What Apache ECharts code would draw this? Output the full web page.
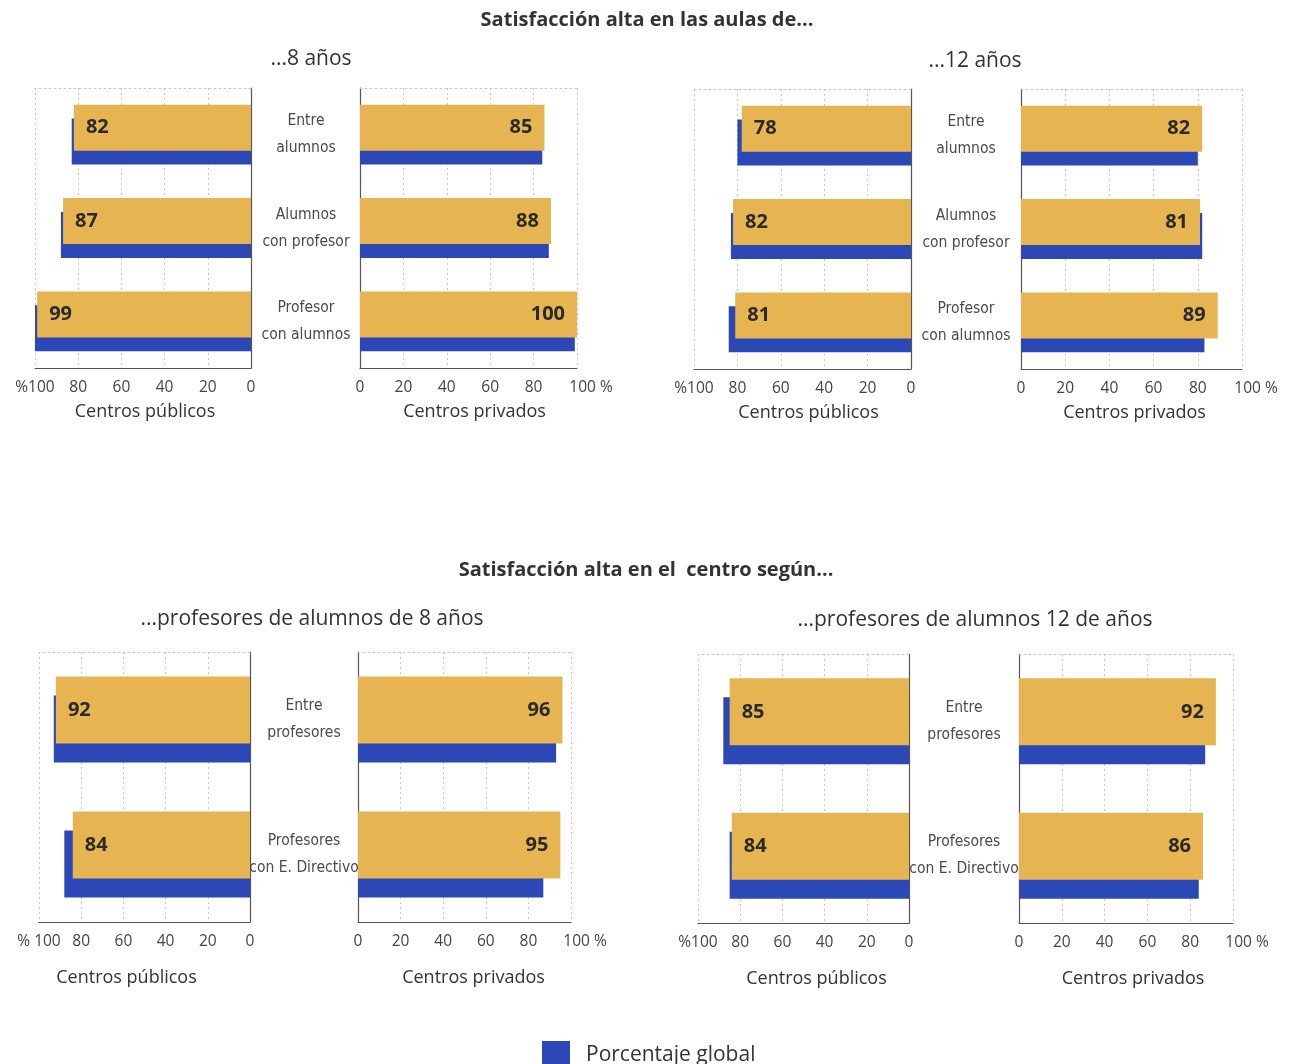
<!DOCTYPE html>
<html>
<head>
<meta charset="utf-8">
<script src="https://cdn.jsdelivr.net/npm/echarts@6/dist/echarts.min.js"></script>
<style>
html,body{margin:0;padding:0;background:#fff;}
#chart{width:1289px;height:1064px;}
</style>
</head>
<body>
<div id="chart"></div>
<script>
// ---- Data ----
const catsAulas = ['Entre\nalumnos', 'Alumnos\ncon profesor', 'Profesor\ncon alumnos'];
const catsCentro = ['Entre\nprofesores', 'Profesores\ncon E. Directivo'];

const aulas8PubVal = [82, 87, 99];
const aulas8PubGlobal = [83, 88, 100];
const aulas8PrivVal = [85, 88, 100];
const aulas8PrivGlobal = [84, 87, 99];

const aulas12PubVal = [78, 82, 81];
const aulas12PubGlobal = [80, 83, 84];
const aulas12PrivVal = [82, 81, 89];
const aulas12PrivGlobal = [80, 82, 83];

const centro8PubVal = [92, 84];
const centro8PubGlobal = [93, 88];
const centro8PrivVal = [96, 95];
const centro8PrivGlobal = [93, 87];

const centro12PubVal = [85, 84];
const centro12PubGlobal = [88, 85];
const centro12PrivVal = [92, 86];
const centro12PrivGlobal = [87, 84];

const pubTickLabels = {0: '0', 20: '20', 40: '40', 60: '60', 80: '80', 100: '%100'};
const pubTickLabelsB = {0: '0', 20: '20', 40: '40', 60: '60', 80: '80', 100: '% 100'};
const privTickLabels = {0: '0', 20: '20', 40: '40', 60: '60', 80: '80', 100: '100 %'};

const axisNamePub = 'Centros públicos';
const axisNamePriv = 'Centros privados';
const legendName = 'Porcentaje global';

// ---- Styles ----
const GOLD = '#E6B552';
const BLUE = '#2C47B6';
const FONT = "'Open Sans', 'Noto Sans', sans-serif";
const NARROW = "'Liberation Sans Narrow', 'DejaVu Sans Condensed', sans-serif";

const grids = [], xAxes = [], yAxes = [], series = [];

function addGrid(box, cats, vals, glob, isPub, opts) {
  const gi = grids.length;
  grids.push({left: box[0], top: box[1], width: box[2], height: box[3], containLabel: false});
  const xMain = xAxes.length;
  const labels = opts.tickLabels;
  const dx = opts.nameShift || 0;
  xAxes.push({
    type: 'value', gridIndex: gi, min: 0, max: 100, interval: 20, inverse: isPub,
    position: 'bottom',
    axisLine: {show: true, lineStyle: {color: '#555', width: 1.2}},
    axisTick: {show: false},
    splitLine: {show: true, lineStyle: {color: '#c8c8c8', type: [2, 3], width: 1}},
    axisLabel: {
      color: '#444', fontSize: 15.5, fontFamily: FONT, margin: 12,
      showMinLabel: true, showMaxLabel: true, hideOverlap: false,
      formatter: function (v) {
        if (v === 100 && !isPub) return '{p|' + labels[v] + '}';
        return labels[v];
      },
      rich: {p: {color: '#444', fontSize: 15.5, fontFamily: FONT, padding: [0, 0, 0, 28]}}
    },
    name: isPub ? axisNamePub : axisNamePriv,
    nameLocation: 'middle', nameGap: opts.nameGap,
    nameTextStyle: {
      color: '#333', fontSize: 18, fontFamily: FONT,
      padding: dx >= 0 ? [0, 0, 0, 2 * dx] : [0, -2 * dx, 0, 0]
    }
  });
  xAxes.push({
    type: 'value', gridIndex: gi, min: 0, max: 100, inverse: isPub, position: 'top',
    axisLine: {show: true, lineStyle: {color: '#c8c8c8', type: [2, 3], width: 1}},
    axisTick: {show: false}, axisLabel: {show: false}, splitLine: {show: false}
  });
  const yi = yAxes.length;
  yAxes.push({
    type: 'category', gridIndex: gi, data: cats, inverse: true,
    position: isPub ? 'right' : 'left',
    axisLine: {show: true, onZero: false, lineStyle: {color: '#555', width: 1.2}},
    axisTick: {show: false},
    splitLine: {show: false},
    axisLabel: isPub ? {show: false} : {
      show: true, align: 'center', margin: opts.catMargin,
      color: '#4a4a4a', fontSize: 15.5, lineHeight: 27, fontFamily: NARROW
    }
  });
  const bw = opts.barWidth;
  series.push({
    type: 'bar', name: 'Valor', xAxisIndex: xMain, yAxisIndex: yi,
    data: vals, barWidth: bw, barGap: opts.barGap, z: 3,
    itemStyle: {color: GOLD},
    label: {
      show: true, position: isPub ? 'insideLeft' : 'insideRight', distance: 12,
      color: '#2a2a2a', fontSize: 20, fontWeight: 'bold', fontFamily: FONT
    },
    silent: true, animation: false
  });
  series.push({
    type: 'bar', name: legendName, xAxisIndex: xMain, yAxisIndex: yi,
    data: glob, barWidth: bw, barGap: opts.barGap, z: 2,
    itemStyle: {color: BLUE},
    silent: true, animation: false
  });
}

const topOpts = {barWidth: 46, barGap: '-70%', nameGap: 35};
const botOpts = {barWidth: 67, barGap: '-72%', nameGap: 47};

addGrid([35, 88, 216, 280], catsAulas, aulas8PubVal, aulas8PubGlobal, true, Object.assign({tickLabels: pubTickLabels, nameShift: 2}, topOpts));
addGrid([360, 88, 217, 280], catsAulas, aulas8PrivVal, aulas8PrivGlobal, false, Object.assign({tickLabels: privTickLabels, catMargin: 54, nameShift: 6}, topOpts));
addGrid([694, 89, 217, 280], catsAulas, aulas12PubVal, aulas12PubGlobal, true, Object.assign({tickLabels: pubTickLabels, nameShift: 6}, topOpts));
addGrid([1021, 89, 221, 280], catsAulas, aulas12PrivVal, aulas12PrivGlobal, false, Object.assign({tickLabels: privTickLabels, catMargin: 55, nameShift: 3}, topOpts));

addGrid([39, 652, 211, 270], catsCentro, centro8PubVal, centro8PubGlobal, true, Object.assign({tickLabels: pubTickLabelsB, nameShift: -18}, botOpts));
addGrid([358, 652, 213, 270], catsCentro, centro8PrivVal, centro8PrivGlobal, false, Object.assign({tickLabels: privTickLabels, catMargin: 54, nameShift: 9}, botOpts));
addGrid([698, 654, 211, 269], catsCentro, centro12PubVal, centro12PubGlobal, true, Object.assign({tickLabels: pubTickLabels, nameShift: 13}, botOpts));
addGrid([1019, 654, 214, 269], catsCentro, centro12PrivVal, centro12PrivGlobal, false, Object.assign({tickLabels: privTickLabels, catMargin: 55, nameShift: 7}, botOpts));

const titleStyleBold = {color: '#333', fontSize: 20, fontWeight: 'bold', fontFamily: FONT};
const titleStyle = {color: '#333', fontSize: 21, fontWeight: 'normal', fontFamily: FONT};

const option = {
  backgroundColor: '#fff',
  animation: false,
  title: [
    {text: 'Satisfacción alta en las aulas de...', left: 642, top: 5, textAlign: 'center', textStyle: titleStyleBold},
    {text: '...8 años', left: 306, top: 44, textAlign: 'center', textStyle: titleStyle},
    {text: '...12 años', left: 970, top: 46, textAlign: 'center', textStyle: titleStyle},
    {text: 'Satisfacción alta en el  centro según...', left: 641, top: 555, textAlign: 'center', textStyle: titleStyleBold},
    {text: '...profesores de alumnos de 8 años', left: 307, top: 604, textAlign: 'center', textStyle: titleStyle},
    {text: '...profesores de alumnos 12 de años', left: 970, top: 605, textAlign: 'center', textStyle: titleStyle}
  ],
  legend: {
    data: [legendName], left: 537, top: 1036, itemWidth: 28, itemHeight: 28,
    icon: 'rect', selectedMode: false,
    textStyle: {color: '#333', fontSize: 21, fontFamily: FONT, padding: [0, 0, 0, 11]}
  },
  grid: grids, xAxis: xAxes, yAxis: yAxes, series: series
};

const chart = echarts.init(document.getElementById('chart'), null, {renderer: 'canvas'});
chart.setOption(option);
</script>
</body>
</html>
